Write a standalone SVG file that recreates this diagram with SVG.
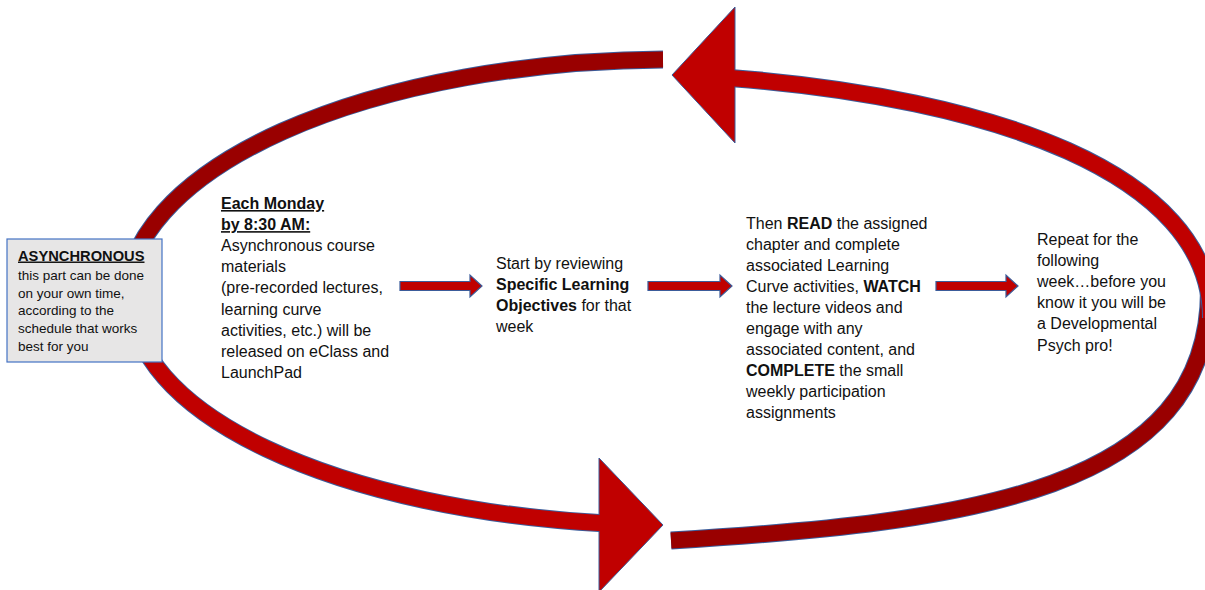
<svg xmlns="http://www.w3.org/2000/svg" width="1205" height="590" viewBox="0 0 1205 590">
  <style>
    .edge { fill: none; stroke: #3B5C9A; stroke-width: 18; stroke-linecap: butt; }
    .bright { fill: none; stroke: #C00000; stroke-width: 16; stroke-linecap: butt; }
    .dark { fill: none; stroke: #990000; stroke-width: 16; stroke-linecap: butt; }
    .head { fill: #C00000; stroke: #3B5C9A; stroke-width: 1; stroke-linejoin: miter; }
    .block { fill: #C00000; stroke: #3B5C9A; stroke-width: 1.2; }
    .box { fill: #E7E6E6; stroke: #4472C4; stroke-width: 1.2; }
    .t { font-family: "Liberation Sans", Arial, sans-serif; font-size: 16px; fill: #111; }
    .s { font-family: "Liberation Sans", Arial, sans-serif; font-size: 13.5px; fill: #111; }
    .h { font-family: "Liberation Sans", Arial, sans-serif; font-size: 14.7px; font-weight: bold; fill: #111; text-decoration: underline; }
    .b { font-weight: bold; }
    .u { font-weight: bold; text-decoration: underline; }
  </style>

  <g id="connectors">
    <!-- loop: top-left dark band -->
    <path class="edge" d="M 663 59.5 A 546 240.5 0 0 0 126 300"/>
    <path class="dark" d="M 663 59.5 A 546 240.5 0 0 0 126 300"/>
    <!-- loop: bottom-right dark band -->
    <path class="edge" d="M 671 540.5 C 971 522.5, 1209 490, 1209 290"/>
    <path class="dark" d="M 671 540.5 C 971 522.5, 1209 490, 1209 290"/>
    <!-- loop: top bright band with arrowhead -->
    <path class="edge" d="M 733 78.2 C 988 98, 1211 172, 1211 318"/>
    <polygon class="head" points="735,7 672,75 735,143"/>
    <path class="bright" d="M 733 78.2 C 988 98, 1211 172, 1211 318"/>
    <!-- loop: bottom bright band with arrowhead -->
    <path class="edge" d="M 132 300 A 540 225 0 0 0 603 523.2"/>
    <polygon class="head" points="599,458 663,525 599,592"/>
    <path class="bright" d="M 132 300 A 540 225 0 0 0 603 523.2"/>

    <!-- straight block arrows -->
    <path class="block" d="M 400 281.5 H 470 V 275 L 482 286 L 470 297 V 290.5 H 400 Z"/>
    <path class="block" d="M 648 281.5 H 720 V 275 L 732 286 L 720 297 V 290.5 H 648 Z"/>
    <path class="block" d="M 936 281.5 H 1006 V 275 L 1018 286 L 1006 297 V 290.5 H 936 Z"/>
  </g>

  <g id="async-box">
    <rect class="box" x="7" y="239" width="155" height="123"/>
    <text class="h" x="18" y="260.5">ASYNCHRONOUS</text>
    <text class="s" x="18" y="280">this part can be done</text>
    <text class="s" x="18" y="297.7">on your own time,</text>
    <text class="s" x="18" y="315.4">according to the</text>
    <text class="s" x="18" y="333.1">schedule that works</text>
    <text class="s" x="18" y="350.8">best for you</text>
  </g>

  <g id="monday">
    <text class="t" x="221" y="209"><tspan class="u">Each Monday</tspan></text>
    <text class="t" x="221" y="230.1"><tspan class="u">by 8:30 AM:</tspan></text>
    <text class="t" x="221" y="251.2">Asynchronous course</text>
    <text class="t" x="221" y="272.3">materials</text>
    <text class="t" x="221" y="293.4">(pre-recorded lectures,</text>
    <text class="t" x="221" y="314.5">learning curve</text>
    <text class="t" x="221" y="335.6">activities, etc.) will be</text>
    <text class="t" x="221" y="356.7">released on eClass and</text>
    <text class="t" x="221" y="377.8">LaunchPad</text>
  </g>

  <g id="objectives">
    <text class="t" x="496" y="269">Start by reviewing</text>
    <text class="t" x="496" y="290.1"><tspan class="b">Specific Learning</tspan></text>
    <text class="t" x="496" y="311.2"><tspan class="b">Objectives</tspan> for that</text>
    <text class="t" x="496" y="332.3">week</text>
  </g>

  <g id="read-watch">
    <text class="t" x="746" y="228.5">Then <tspan class="b">READ</tspan> the assigned</text>
    <text class="t" x="746" y="249.6">chapter and complete</text>
    <text class="t" x="746" y="270.7">associated Learning</text>
    <text class="t" x="746" y="291.8">Curve activities, <tspan class="b">WATCH</tspan></text>
    <text class="t" x="746" y="312.9">the lecture videos and</text>
    <text class="t" x="746" y="334">engage with any</text>
    <text class="t" x="746" y="355.1">associated content, and</text>
    <text class="t" x="746" y="376.2"><tspan class="b">COMPLETE</tspan> the small</text>
    <text class="t" x="746" y="397.3">weekly participation</text>
    <text class="t" x="746" y="418.4">assignments</text>
  </g>

  <g id="repeat">
    <text class="t" x="1037" y="244.5">Repeat for the</text>
    <text class="t" x="1037" y="265.7">following</text>
    <text class="t" x="1037" y="286.9">week…before you</text>
    <text class="t" x="1037" y="308.1">know it you will be</text>
    <text class="t" x="1037" y="329.3">a Developmental</text>
    <text class="t" x="1037" y="350.5">Psych pro!</text>
  </g>
</svg>
